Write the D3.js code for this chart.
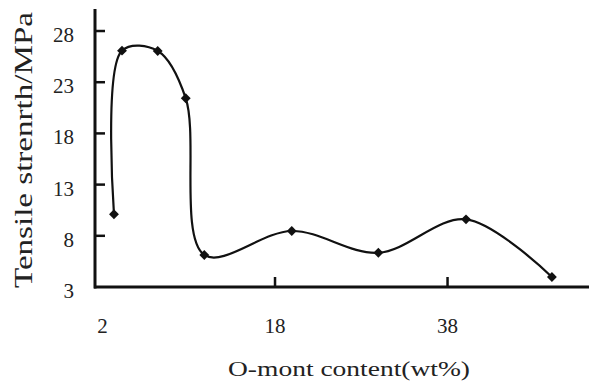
<!DOCTYPE html>
<html>
<head>
<meta charset="utf-8">
<script src="https://cdn.jsdelivr.net/npm/d3@7"></script>
<style>
  body { margin: 0; background: #fff; }
  text { font-family: "Liberation Serif", "Times New Roman", serif; fill: #222; }
</style>
</head>
<body>
<div id="chart"></div>
<script>
var width = 589,
    height = 381;

// O-mont content (x) and tensile strength (y)
var content  = [-0.67, 0.26, 4.4, 7.65, 9.8, 19.94, 29.98, 40.14, 50.1];
var strength = [10.1, 26.08, 26.05, 21.43, 6.13, 8.47, 6.35, 9.61, 3.98];

var yTicks = [3, 8, 13, 18, 23, 28];
var xTicks = [-2, 18, 38];
var xTickLabels = ["2", "18", "38"];

var svg = d3.select("#chart")
    .append("svg")
    .attr("width", width)
    .attr("height", height);

var x = d3.scaleLinear()
    .domain([-2.87, 54.4])
    .range([95, 589]);

var y = d3.scaleLinear()
    .domain([3, 30.15])
    .range([287, 9]);

// axes lines
svg.append("line")
    .attr("x1", 95).attr("x2", 95)
    .attr("y1", y(30.15)).attr("y2", y(3) + 1.5)
    .attr("stroke", "#111").attr("stroke-width", 3);

svg.append("line")
    .attr("x1", 94).attr("x2", width)
    .attr("y1", y(3)).attr("y2", y(3))
    .attr("stroke", "#111").attr("stroke-width", 3);

// y ticks (inside)
svg.selectAll(".ytick")
    .data(yTicks.slice(1))
    .enter().append("line")
    .attr("x1", 95).attr("x2", 105)
    .attr("y1", function(d) { return y(d); })
    .attr("y2", function(d) { return y(d); })
    .attr("stroke", "#111").attr("stroke-width", 2.5);

svg.selectAll(".ylab")
    .data(yTicks)
    .enter().append("text")
    .attr("x", 74)
    .attr("y", function(d) { return y(d) + 11; })
    .attr("text-anchor", "end")
    .style("font-size", "21px")
    .text(function(d) { return d; });

// x ticks (inside)
svg.selectAll(".xtick")
    .data(xTicks.slice(1))
    .enter().append("line")
    .attr("x1", function(d) { return x(d); })
    .attr("x2", function(d) { return x(d); })
    .attr("y1", y(3)).attr("y2", y(3) - 10)
    .attr("stroke", "#111").attr("stroke-width", 2.5);

svg.selectAll(".xlab")
    .data(xTicks)
    .enter().append("text")
    .attr("x", function(d) { return x(d); })
    .attr("y", 333)
    .attr("text-anchor", "middle")
    .style("font-size", "21px")
    .text(function(d, i) { return xTickLabels[i]; });

// axis titles
svg.append("text")
    .attr("x", 349)
    .attr("y", 376)
    .attr("text-anchor", "middle")
    .attr("textLength", 242)
    .attr("lengthAdjust", "spacingAndGlyphs")
    .style("font-size", "22px")
    .text("O-mont content(wt%)");

svg.append("text")
    .attr("transform", "translate(32,150) rotate(-90)")
    .attr("text-anchor", "middle")
    .attr("textLength", 276)
    .attr("lengthAdjust", "spacingAndGlyphs")
    .style("font-size", "25px")
    .text("Tensile strenrth/MPa");

// smoothed line
var pts = content.map(function(c, i) { return [c, strength[i]]; });

var line = d3.line()
    .x(function(d) { return x(d[0]); })
    .y(function(d) { return y(d[1]); })
    .curve(d3.curveCatmullRom);

svg.append("path")
    .datum(pts)
    .attr("d", line)
    .attr("fill", "none")
    .attr("stroke", "#111")
    .attr("stroke-width", 2.2);

svg.selectAll(".pt")
    .data(pts)
    .enter().append("path")
    .attr("d", d3.symbol().type(d3.symbolDiamond2).size(62))
    .attr("transform", function(d) { return "translate(" + x(d[0]) + "," + y(d[1]) + ")"; })
    .attr("fill", "#111");
</script>
</body>
</html>
